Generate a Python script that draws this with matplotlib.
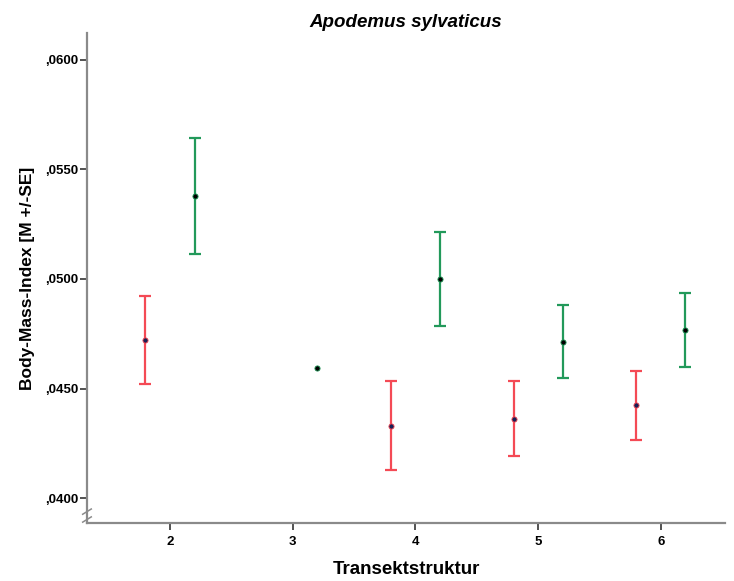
import matplotlib
matplotlib.use("Agg")
import matplotlib.pyplot as plt
from matplotlib.ticker import FuncFormatter

# Transektstruktur-Kategorien, zwei Gruppen je Kategorie (links rot, rechts grün)
kategorien = [2, 3, 4, 5, 6]

rot_x = [2, 4, 5, 6]
rot_mittel = [0.04721, 0.04330, 0.04361, 0.04423]
rot_oben = [0.04922, 0.04533, 0.04533, 0.04581]
rot_unten = [0.04521, 0.04130, 0.04192, 0.04265]

# bei 3 nur ein Wert -> kein Fehlerbalken
gruen_x = [2, 3, 4, 5, 6]
gruen_mittel = [0.05378, 0.04592, 0.05000, 0.04712, 0.04766]
gruen_oben = [0.05645, 0.04592, 0.05216, 0.04881, 0.04936]
gruen_unten = [0.05114, 0.04592, 0.04784, 0.04549, 0.04598]

y_ticks = [0.0400, 0.0450, 0.0500, 0.0550, 0.0600]

ROT = '#f44a55'
GRUEN = '#22995a'
ACHSE = '#8a8a8a'

plt.rcParams['font.family'] = ['Liberation Sans', 'DejaVu Sans']

fig = plt.figure(figsize=(7.34, 5.81), dpi=100)
ax = fig.add_axes([0.1185, 0.0998, 0.8692, 0.8434])


def fehlerbalken(xs, mittel, oben, unten, versatz, farbe, punkt):
    xp = [x + versatz for x in xs]
    mit_se = [i for i in range(len(xs)) if oben[i] > unten[i]]
    err = [[mittel[i] - unten[i] for i in mit_se],
           [oben[i] - mittel[i] for i in mit_se]]
    ax.errorbar([xp[i] for i in mit_se], [mittel[i] for i in mit_se], yerr=err,
                fmt='none', ecolor=farbe, elinewidth=1.6, capsize=4.5,
                capthick=1.6, zorder=2)
    ax.scatter(xp, mittel, s=14, color=punkt, edgecolors=farbe,
               linewidths=0.6, zorder=3)


fehlerbalken(rot_x, rot_mittel, rot_oben, rot_unten, -0.2, ROT, '#1b1f55')
fehlerbalken(gruen_x, gruen_mittel, gruen_oben, gruen_unten, 0.2, GRUEN, '#000000')

ax.set_xlim(1.3236, 6.5216)
ax.set_ylim(0.03886, 0.06123)
ax.set_xticks(kategorien)
ax.set_yticks(y_ticks)
ax.yaxis.set_major_formatter(
    FuncFormatter(lambda v, p: '{:.4f}'.format(v)[1:].replace('.', ',')))

for s in ['top', 'right']:
    ax.spines[s].set_visible(False)
for s in ['left', 'bottom']:
    ax.spines[s].set_color(ACHSE)
    ax.spines[s].set_linewidth(1.6)

ax.tick_params(axis='both', direction='out', length=5, width=1.2,
               color='#333333', labelsize=9.5, pad=1.5)
ax.tick_params(axis='x', pad=4)
for lbl in ax.get_xticklabels() + ax.get_yticklabels():
    lbl.set_fontweight('bold')

# Achsenbruch-Zeichen am Fuß der y-Achse
for dy in (-0.00018, 0.00018):
    y0 = 0.03920 + dy
    ax.plot([1.3236 - 0.035, 1.3236 + 0.035], [y0 - 0.00012, y0 + 0.00012],
            color=ACHSE, lw=1.1, clip_on=False, zorder=4)

ax.set_title('Apodemus sylvaticus', fontsize=13.5, fontweight='bold',
             fontstyle='italic', pad=4)
ax.set_xlabel('Transektstruktur', fontsize=13.5, fontweight='bold', labelpad=10)
ax.set_ylabel('Body-Mass-Index [M +/-SE]', fontsize=12.5, fontweight='bold',
              labelpad=7)

fig.savefig('out.png', dpi=100)
